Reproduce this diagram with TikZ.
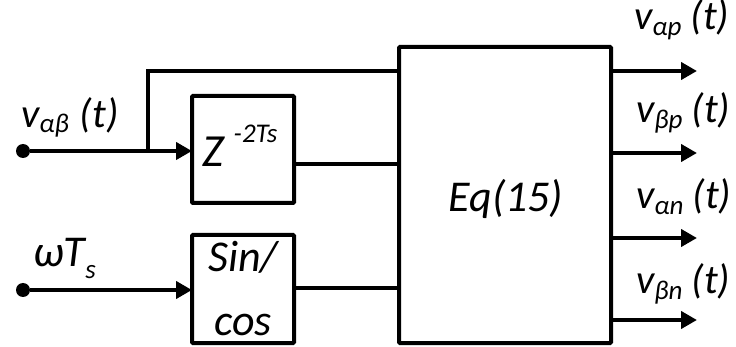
\documentclass[tikz,border=0pt]{standalone}
\usepackage{fontspec}
\setmainfont{Carlito}
\usetikzlibrary{arrows.meta}
\newcommand{\lsub}[2][6pt]{\raisebox{-#1}{\fontsize{27}{27}\selectfont #2}}
\begin{document}
\begin{tikzpicture}[x=1pt,y=-1pt,
  blk/.style={draw, line width=4pt, inner sep=0pt, outer sep=0pt, rounded corners=1pt},
  wire/.style={line width=4pt},
  sig/.style={line width=4pt, -{Triangle[length=16pt,width=17pt]}},
  lbl/.style={font=\fontsize{41}{41}\selectfont\itshape, inner sep=0pt, anchor=base west},
  ctr/.style={font=\fontsize{44}{44}\selectfont\itshape, inner sep=0pt, anchor=base},
  dotst/.style={circle, fill, inner sep=0pt, minimum size=14pt}]
\path[use as bounding box] (0,0) rectangle (736,347);
% blocks
\node[blk, minimum width=212pt, minimum height=296pt] (E) at (505,195) {};
\node[blk, minimum width=102pt, minimum height=107pt] (Z) at (243,149.5) {};
\node[blk, minimum width=102pt, minimum height=108pt] (S) at (243,289) {};
% block texts
\node[ctr] (Etxt) at (506,212) {Eq(15)};
\node[lbl, font=\fontsize{46}{46}\selectfont\itshape] (Ztxt) at (202,167) {Z\hspace{10pt}\raisebox{24pt}{\fontsize{27}{27}\selectfont -2Ts}};
\node[ctr] (S1) at (243,272) {Sin/};
\node[ctr] (S2) at (243,335) {cos};
% inputs
\node[dotst] (a) at (23,151) {};
\node[dotst] (w) at (23,290) {};
\coordinate (br) at (148,151);
\coordinate (in1) at (0,71);
\coordinate (in2) at (0,164);
\coordinate (in3) at (0,288);
\draw[sig] (a) -- (a -| Z.west);
\draw[wire] (br) |- (E.west |- in1);
\draw[wire] (Z.east |- in2) -- (E.west |- in2);
\draw[wire] (S.east |- in3) -- (E.west |- in3);
\draw[sig] (w) -- (w -| S.west);
% outputs
\foreach \y/\n in {71/1,153/2,238/3,320/4}{
  \coordinate (o\n) at (697,\y);
  \draw[sig] (E.east |- o\n) -- (o\n);
}
% labels
\node[lbl] (la) at (21,128) {v\lsub[5pt]{αβ}\hspace{11pt}(t)};
\node[lbl, font=\fontsize{44}{44}\selectfont\itshape] (lw) at (33,267) {ωT\lsub[12pt]{s}};
\node[lbl] (l1) at (634,30) {v\lsub{αp}\hspace{9pt}(t)};
\node[lbl] (l2) at (636,123) {v\lsub{βp}\hspace{9pt}(t)};
\node[lbl] (l3) at (636,209) {v\lsub{αn}\hspace{9pt}(t)};
\node[lbl] (l4) at (636,294) {v\lsub{βn}\hspace{9pt}(t)};
\end{tikzpicture}
\end{document}
